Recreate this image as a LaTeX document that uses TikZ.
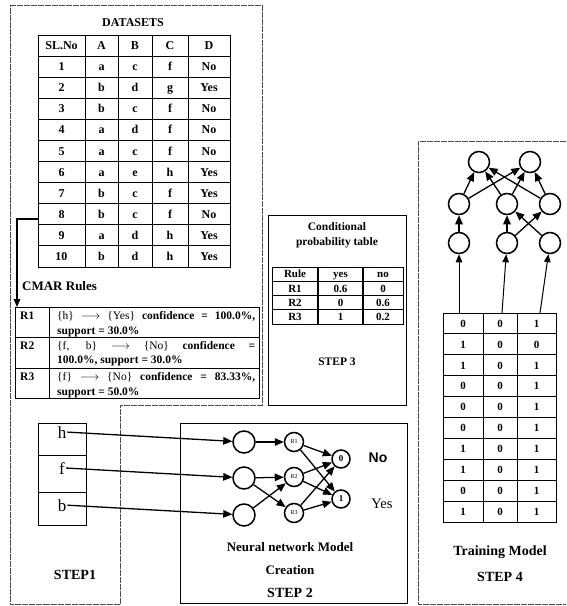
\documentclass[tikz,border=0pt]{standalone}
\usepackage{fontspec}
\setmainfont{Liberation Serif}
\newfontfamily\arialfont{Liberation Sans}
\usetikzlibrary{arrows.meta}
\newcommand{\fsz}[1]{\fontsize{#1}{#1}\selectfont}
\begin{document}
\begin{tikzpicture}[x=1pt,y=-1pt,
  frame/.style={draw=black!70, line width=1pt, dash pattern=on 6pt off 1pt},
  grid/.style={line width=0.9pt},
  box/.style={draw, inner sep=0pt, anchor=north west},
  cell/.style={inner sep=0pt, anchor=base, font=\bfseries\fsz{12}},
  pcell/.style={inner sep=0pt, anchor=base, font=\bfseries\fsz{11}},
  circ/.style={circle, draw, line width=1.5pt, minimum size=22pt, inner sep=0pt},
  arr/.style={line width=1.3pt, -{Triangle[length=9pt,width=7.5pt]}},
  lbl/.style={font=\bfseries\fsz{14}, inner sep=0pt},
  rtxt/.style={anchor=base west, inner sep=0pt, font=\bfseries\fsz{11.5}}
]
\useasboundingbox (0,0) rectangle (566,606);

% ---------- outer frames ----------
\draw[frame] (10,5) -- (262,5) -- (262,405) -- (120,405) -- (120,604.5) -- (10,604.5) -- cycle;
\draw[frame] (566,141) -- (418,141) -- (418,604.5) -- (566,604.5);

% ---------- DATASETS ----------
\node[font=\bfseries\fsz{12}] (dtitle) at (133,23) {DATASETS};
\node[box, line width=1pt, minimum width=192pt, minimum height=232pt] (dtab) at (38,35) {};
\foreach \x in {85,118,152,188} \draw[grid] (\x,35) -- (\x,267);
\foreach \i in {1,...,10} \draw[grid] (38,{35+21.09*\i}) -- (230,{35+21.09*\i});
\foreach \row [count=\r from 0] in {{SL.No,A,B,C,D},{1,a,c,f,No},{2,b,d,g,Yes},{3,b,c,f,No},{4,a,d,f,No},{5,a,c,f,No},{6,a,e,h,Yes},{7,b,c,f,Yes},{8,b,c,f,No},{9,a,d,h,Yes},{10,b,d,h,Yes}}{
  \foreach \v [count=\c from 0] in \row {
    \pgfmathsetmacro\cx{{61.5,101.5,135,170,209}[\c]}
    \node[cell] (d-\r-\c) at (\cx,{35+21.09*(\r+0.5)+4}) {\v};
  }
}

% ---------- CMAR rules ----------
\node[anchor=west, inner sep=0pt, font=\bfseries\fsz{13}] (cmt) at (22,286) {CMAR Rules};
\node[box, line width=1pt, minimum width=244pt, minimum height=91pt] (cmar) at (15,307) {};
\draw[grid] (49,307) -- (49,398);
\draw[grid] (15,337) -- (259,337);
\draw[grid] (15,368) -- (259,368);
\coordinate (a0) at (38,219);
\draw[line width=1.2pt, -{Triangle[length=8pt,width=6.5pt]}] (a0) -| ([xshift=2pt]cmar.north west);

\node[rtxt] (rl1) at (20,319) {R1};
\node[rtxt] (rt1a) at (57,319) {\makebox[198pt][s]{\mdseries\{h\} $\longrightarrow$ \{Yes\} \bfseries confidence = 100.0\%,}};
\node[rtxt] (rt1b) at (57,334) {support = 30.0\%};
\node[rtxt] (rl2) at (20,349) {R2};
\node[rtxt] (rt2a) at (57,349) {\makebox[198pt][s]{\mdseries\{f, b\} $\longrightarrow$ \{No\} \bfseries confidence =}};
\node[rtxt] (rt2b) at (57,363) {100.0\%, support = 30.0\%};
\node[rtxt] (rl3) at (20,380) {R3};
\node[rtxt] (rt3a) at (57,380) {\makebox[198pt][s]{\mdseries\{f\} $\longrightarrow$ \{No\} \bfseries confidence = 83.33\%,}};
\node[rtxt] (rt3b) at (57,395) {support = 50.0\%};

% ---------- STEP 1 ----------
\node[box, line width=0.7pt, minimum width=48pt, minimum height=32pt] (b1) at (38,423) {};
\node[box, line width=0.7pt, minimum width=48pt, minimum height=37pt] (b2) at (38,455) {};
\node[box, line width=0.7pt, minimum width=48pt, minimum height=33pt] (b3) at (38,492) {};
\node[anchor=base, inner sep=1pt, font=\fsz{17}] (lh) at (62,438) {h};
\node[anchor=base, inner sep=1pt, font=\fsz{17}] (lf) at (62,474) {f};
\node[anchor=base, inner sep=1pt, font=\fsz{17}] (lb) at (62,511) {b};
\node[lbl] (st1) at (75,575) {STEP1};

% ---------- STEP 2 ----------
\node[box, line width=1.3pt, minimum width=227pt, minimum height=180pt] (s2box) at (180,423) {};
\node[circ] (i1) at (244,442) {};
\node[circ] (i2) at (244,478) {};
\node[circ] (i3) at (244,515) {};
\node[circ, minimum size=19pt, font=\fsz{6}] (r1) at (294,442) {R1};
\node[circ, minimum size=19pt, font=\fsz{6}] (r2) at (294,477) {R2};
\node[circ, minimum size=19pt, font=\fsz{6}] (r3) at (294,513) {R3};
\node[circ, minimum size=18pt, font=\bfseries\fsz{9}] (o0) at (341,459) {0};
\node[circ, minimum size=18pt, font=\bfseries\fsz{9}] (o1) at (341,499) {1};
\draw[arr] (lh.east) -- (i1);
\draw[arr] (lf.east) -- (i2);
\draw[arr] (lb.east) -- (i3);
\draw[arr] (i1) -- (r1);
\draw[arr] (i2) -- (r2);
\draw[arr] (i2) -- (r3);
\draw[arr] (i3) -- (r2);
\foreach \s in {r1,r2,r3} { \draw[arr] (\s) -- (o0); \draw[arr] (\s) -- (o1); }
\node[inner sep=0pt, font=\arialfont\bfseries\fsz{14}] (no) at (378,458) {No};
\node[inner sep=0pt, font=\fsz{14.5}] (yes) at (382,504) {Yes};
\node[lbl, font=\bfseries\fsz{13}] (nn1) at (290,547) {Neural network Model};
\node[lbl, font=\bfseries\fsz{13}] (nn2) at (290,570) {Creation};
\node[lbl] (st2) at (290,593) {STEP 2};

% ---------- STEP 3 ----------
\node[box, line width=1.3pt, minimum width=138pt, minimum height=190pt] (s3box) at (268,215) {};
\node[align=center, inner sep=0pt, font=\bfseries\fontsize{11.5}{15}\selectfont] (ptitle) at (337,235.5) {Conditional\\probability table};
\node[box, line width=1.2pt, minimum width=131pt, minimum height=57pt] (ptab) at (272,267) {};
\foreach \x in {318,363} \draw[line width=1.1pt] (\x,267) -- (\x,324);
\foreach \i in {1,2,3} \draw[line width=1.1pt] (272,{267+14.25*\i}) -- (403,{267+14.25*\i});
\foreach \row [count=\r from 0] in {{Rule,yes,no},{R1,0.6,0},{R2,0,0.6},{R3,1,0.2}}{
  \foreach \v [count=\c from 0] in \row {
    \pgfmathsetmacro\cx{{295,340.5,383}[\c]}
    \node[pcell] (p-\r-\c) at (\cx,{267+14.25*(\r+0.5)+3.8}) {\v};
  }
}
\node[lbl, font=\bfseries\fsz{11.5}] (st3) at (337,362) {STEP 3};

% ---------- STEP 4 ----------
\node[circ, minimum size=21pt] (t1) at (479,162) {};
\node[circ, minimum size=21pt] (t2) at (530,162) {};
\node[circ, minimum size=21pt] (m1) at (459,204) {};
\node[circ, minimum size=21pt] (m2) at (507,204) {};
\node[circ, minimum size=21pt] (m3) at (550,204) {};
\node[circ, minimum size=21pt] (l1) at (459,243) {};
\node[circ, minimum size=21pt] (l2) at (507,243) {};
\node[circ, minimum size=21pt] (l3) at (550,243) {};
\draw[arr] (l1) -- (m1);
\draw[arr] (l2) -- (m2);
\draw[arr] (l2) -- (m3);
\draw[arr] (l3) -- (m2);
\foreach \s in {m1,m2,m3} { \draw[arr] (\s) -- (t1); \draw[arr] (\s) -- (t2); }
\node[box, line width=1pt, minimum width=113pt, minimum height=209pt] (ttab) at (443,313) {};
\foreach \x in {483,517} \draw[grid] (\x,313) -- (\x,522);
\foreach \i in {1,...,9} \draw[grid] (443,{313+20.9*\i}) -- (556,{313+20.9*\i});
\foreach \row [count=\r from 0] in {{0,0,1},{1,0,0},{1,0,1},{0,0,1},{0,0,1},{0,0,1},{1,0,1},{1,0,1},{0,0,1},{1,0,1}}{
  \foreach \v [count=\c from 0] in \row {
    \pgfmathsetmacro\cx{{463,500,536.5}[\c]}
    \node[pcell] (t-\r-\c) at (\cx,{313+20.9*(\r+0.5)+3.8}) {\v};
  }
}
\coordinate (c1) at (459,313);
\coordinate (c2) at (502,313);
\coordinate (c3) at (540,313);
\draw[line width=1pt, -{Triangle[length=8pt,width=6.5pt]}] (c1) -- (l1);
\draw[line width=1pt, -{Triangle[length=8pt,width=6.5pt]}] (c2) -- (l2);
\draw[line width=1pt, -{Triangle[length=8pt,width=6.5pt]}] (c3) -- (l3);
\node[lbl] (tm) at (500,552) {Training Model};
\node[lbl] (st4) at (500,577) {STEP 4};
\end{tikzpicture}
\end{document}
